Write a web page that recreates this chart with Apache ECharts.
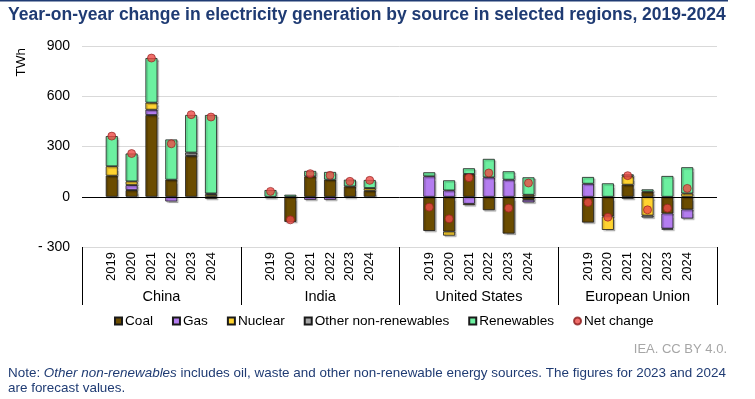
<!DOCTYPE html>
<html>
<head>
<meta charset="utf-8">
<script src="https://cdn.jsdelivr.net/npm/echarts@6/dist/echarts.min.js"></script>
<style>
  html, body { margin: 0; padding: 0; background: #fff; }
  #chart { width: 755px; height: 399px; }
</style>
</head>
<body>
<div id="chart"></div>
<script>
// regions and years, 6 years per region
const regions = ["China", "India", "United States", "European Union"];
const years = ["2019", "2020", "2021", "2022", "2023", "2024"];

// TWh, in order China x6, India x6, United States x6, European Union x6
const coal = [126, 40, 488, 102, 244, -12,   -8, -150, 122, 102, 62, 36,   -204, -208, 136, -80, -220, -18,   -154, -118, 72, 30, -100, -76];
const gas = [0, 30, 32, -28, 0, 0,   0, 0, -18, -18, 0, 0,   122, 38, -42, 116, 102, -16,   78, 0, 0, 0, -90, -54];
const nuclear = [56, 22, 42, 0, 0, 12,   0, 0, 0, 0, 0, 16,   0, -24, -8, 0, 0, 12,   0, -80, 50, -112, 0, 20];
const otherNonRenew = [0, 0, 0, 0, 20, 8,   0, 0, 0, 0, -6, 0,   0, 0, 0, 0, 0, 0,   0, 0, -12, -12, -6, 0];
const renewables = [180, 166, 266, 240, 224, 468,   40, 12, 32, 46, 40, 48,   24, 60, 34, 110, 50, 104,   40, 80, 12, 14, 124, 156];
const netChange = [362, 258, 828, 316, 490, 476,   32, -138, 138, 128, 92, 98,   -62, -132, 114, 142, -68, 82,   -34, -122, 126, -78, -68, 50];

const yTicks = [-300, 0, 300, 600, 900];

// one empty slot before and after each region's years
const categories = [];
regions.forEach(r => {
  categories.push(r + "|a");
  years.forEach(y => categories.push(r + "|" + y));
  categories.push(r + "|b");
});

function spread(values) {
  const out = [];
  regions.forEach((r, ri) => {
    out.push("-");
    for (let i = 0; i < years.length; i++) {
      const v = values[ri * years.length + i];
      out.push(v === 0 ? "-" : v);
    }
    out.push("-");
  });
  return out;
}

const font = "Liberation Sans, Arial, sans-serif";
const barBorder = { borderColor: "#1a1a1a", borderWidth: 0.8, shadowColor: "rgba(0,0,0,0.25)", shadowOffsetX: 1.5, shadowOffsetY: 1.5, shadowBlur: 1 };

function barSeries(name, values, color) {
  return {
    name: name,
    type: "bar",
    stack: "total",
    barWidth: 12,
    data: spread(values),
    itemStyle: Object.assign({ color: color }, barBorder),
    emphasis: { disabled: true }
  };
}

const chart = echarts.init(document.getElementById("chart"));

const series = [
  barSeries("Coal", coal, "#6b4c00"),
  barSeries("Gas", gas, "#b47df0"),
  barSeries("Nuclear", nuclear, "#ffd330"),
  barSeries("Other non-renewables", otherNonRenew, "#a6a6a6"),
  barSeries("Renewables", renewables, "#6cf0a0"),
  {
    name: "Net change",
    type: "scatter",
    symbolSize: 8,
    data: spread(netChange),
    itemStyle: { color: "#ec4a45", borderColor: "#8a1c1c", borderWidth: 0.8 },
    z: 5
  }
];

// zero line
series[0].markLine = {
  silent: true,
  symbol: "none",
  label: { show: false },
  lineStyle: { color: "#000", width: 1, type: "solid" },
  data: [{ yAxis: 0 }]
};

chart.setOption({
  animation: false,
  textStyle: { fontFamily: font },
  grid: { left: 82, right: 38, top: 46, bottom: 152 },
  legend: {
    left: 109,
    top: 309,
    itemWidth: 7,
    itemHeight: 7,
    itemGap: 19,
    textStyle: { fontSize: 13.6, color: "#000", padding: [0, 0, 0, -2] },
    data: [
      { name: "Coal", icon: "rect" },
      { name: "Gas", icon: "rect" },
      { name: "Nuclear", icon: "rect" },
      { name: "Other non-renewables", icon: "rect" },
      { name: "Renewables", icon: "rect" },
      { name: "Net change", icon: "circle" }
    ]
  },
  xAxis: [
    {
      type: "category",
      data: categories,
      position: "bottom",
      axisLine: { show: false },
      axisTick: { show: false },
      axisLabel: {
        interval: 0,
        rotate: 90,
        margin: 5,
        fontSize: 13,
        color: "#000",
        formatter: v => v.split("|")[1].length === 4 ? v.split("|")[1] : ""
      }
    },
    {
      type: "category",
      data: regions,
      position: "bottom",
      axisLine: { show: false },
      axisTick: { show: true, interval: 0, length: 58, lineStyle: { color: "#000", width: 1 } },
      axisLabel: { interval: 0, margin: 42, fontSize: 14.5, color: "#000" }
    }
  ],
  yAxis: {
    type: "value",
    min: yTicks[0],
    max: yTicks[yTicks.length - 1],
    interval: 300,
    axisLine: { show: false },
    axisTick: { show: false },
    splitLine: { lineStyle: { color: "#d9d9d9", width: 1 } },
    axisLabel: {
      fontSize: 14,
      color: "#000",
      margin: 12,
      formatter: v => (v < 0 ? "- " + Math.abs(v) : String(v))
    }
  },
  series: series,
  graphic: [
    { type: "rect", left: 0, top: 0, shape: { width: 728, height: 1.5 }, style: { fill: "#1f3b73" } },
    {
      type: "text", left: 8, top: 6,
      style: { text: "Year-on-year change in electricity generation by source in selected regions, 2019-2024", fontSize: 17.5, fontWeight: "bold", fill: "#1f3b73", fontFamily: font }
    },
    {
      type: "text", left: 14, top: 48, rotation: Math.PI / 2,
      style: { text: "TWh", fontSize: 13.5, fill: "#000", fontFamily: font }
    },
    {
      type: "text", right: 28, top: 343,
      style: { text: "IEA. CC BY 4.0.", fontSize: 13, fill: "#a6a6a6", fontFamily: font }
    },
    {
      type: "text", left: 8, top: 367,
      style: {
        text: "{n|Note: }{i|Other non-renewables}{n| includes oil, waste and other non-renewable energy sources. The figures for 2023 and 2024}\n{n|are forecast values.}",
        fontFamily: font,
        rich: {
          n: { fontSize: 13.45, fill: "#1f3b73", lineHeight: 15 },
          i: { fontSize: 13.45, fill: "#1f3b73", fontStyle: "italic", lineHeight: 15 }
        }
      }
    }
  ]
});
</script>
</body>
</html>
